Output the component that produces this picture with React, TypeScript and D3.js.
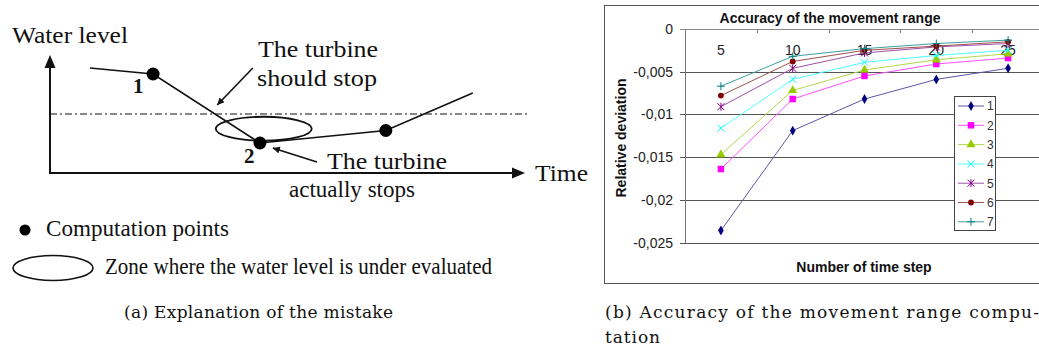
import React from 'react';
import * as d3 from 'd3';

// ---- chart (b) data ----
const steps = [5, 10, 15, 20, 25];
const series1 = [-0.0236, -0.0119, -0.0082, -0.0059, -0.0046];
const series2 = [-0.0164, -0.0082, -0.0055, -0.0041, -0.0034];
const series3 = [-0.0147, -0.0072, -0.0048, -0.0036, -0.0029];
const series4 = [-0.0116, -0.0059, -0.0039, -0.0031, -0.0025];
const series5 = [-0.0091, -0.0046, -0.0028, -0.0021, -0.0017];
const series6 = [-0.0078, -0.0038, -0.0025, -0.002, -0.0015];
const series7 = [-0.0067, -0.0032, -0.0023, -0.0017, -0.0013];
const seriesNames = ['1', '2', '3', '4', '5', '6', '7'];
const yTicks = [0, -0.005, -0.01, -0.015, -0.02, -0.025];

// ---- diagram (a) data (time / level in arbitrary units 0..100) ----
const levelCurve: [number, number][] = [[8.4, 89], [21.7, 83.9], [44.2, 25.4], [70.7, 36], [89, 67.8]];
const computationPoints: [number, number][] = [[21.7, 83.9], [44.2, 25.4], [70.7, 36]];
const pointLabels = ['1', '2'];
const stopThreshold = 50;

const markerColors = ['#000080', '#ff00ff', '#99cc00', '#00ffff', '#800080', '#800000', '#008080'];
const lineColors = ['#5858a8', '#ff50ff', '#b4d84a', '#50ffff', '#a050a8', '#a05050', '#40a0a0'];

const W = 1039;
const H = 349;

function markerPath(i: number): string {
  const sym = d3.symbol();
  switch (i) {
    case 0: return sym.type(d3.symbolDiamond).size(28)() as string;
    case 1: return sym.type(d3.symbolSquare).size(42)() as string;
    case 2: return sym.type(d3.symbolTriangle).size(36)() as string;
    case 3: return 'M-3.5,-3.5L3.5,3.5M-3.5,3.5L3.5,-3.5';
    case 4: return 'M-3.5,-3.5L3.5,3.5M-3.5,3.5L3.5,-3.5M0,-4L0,4';
    case 5: return sym.type(d3.symbolCircle).size(26)() as string;
    default: return 'M-4,0L4,0M0,-4L0,4';
  }
}
const openMarker = (i: number) => i === 3 || i === 4 || i === 6;

function AccuracyChart() {
  const all = [series1, series2, series3, series4, series5, series6, series7];
  const x = d3.scaleBand<number>().domain(steps).range([685, 1044]);
  const y = d3.scaleLinear().domain([-0.025, 0]).range([242.5, 29]);
  const loc = d3.formatLocale({ decimal: ',', thousands: '.', grouping: [3], currency: ['', ''], minus: '-' });
  const fmt = (v: number) => (v === 0 ? '0' : loc.format('')(v));
  const cx = (s: number) => (x(s) as number) + x.bandwidth() / 2;
  const line = d3.line<number>().x((_, k) => cx(steps[k])).y(v => y(v));
  const font = '"Liberation Sans", Arial, sans-serif';
  const edges = [...steps.map(s => x(s) as number), x.range()[1]];

  return (
    <g fontFamily={font}>
      <rect x={604.5} y={5.5} width={445} height={278} fill="#fff" stroke="#555" />
      <text x={830} y={23} textAnchor="middle" fontSize={14} fontWeight="bold" fill="#111">
        Accuracy of the movement range
      </text>
      {yTicks.map(t => (
        <g key={t}>
          <line x1={680} x2={x.range()[1]} y1={Math.round(y(t)) + 0.5} y2={Math.round(y(t)) + 0.5}
            stroke={t === 0 ? '#888' : '#555'} />
          <text x={673} y={y(t)} dy="0.36em" textAnchor="end" fontSize={14} fill="#222">{fmt(t)}</text>
        </g>
      ))}
      <line x1={685.5} x2={685.5} y1={29} y2={243} stroke="#777" />
      {edges.map(e => (
        <line key={e} x1={Math.round(e) + 0.5} x2={Math.round(e) + 0.5} y1={29} y2={33} stroke="#777" />
      ))}
      {steps.map(s => (
        <text key={s} x={cx(s)} y={55} textAnchor="middle" fontSize={14} fill="#222">{s}</text>
      ))}
      <text transform="translate(626,138) rotate(-90)" textAnchor="middle" fontSize={14} fontWeight="bold" fill="#111">
        Relative deviation
      </text>
      <text x={864} y={272} textAnchor="middle" fontSize={14} fontWeight="bold" fill="#111">
        Number of time step
      </text>
      {all.map((vals, i) => (
        <g key={i}>
          <path d={line(vals) as string} fill="none" stroke={lineColors[i]} strokeWidth={1} />
          {vals.map((v, k) => (
            <path key={k} transform={`translate(${cx(steps[k])},${y(v)})`} d={markerPath(i)}
              fill={openMarker(i) ? 'none' : markerColors[i]} stroke={markerColors[i]}
              strokeWidth={openMarker(i) ? 1 : 0} />
          ))}
        </g>
      ))}
      <rect x={954.5} y={96.5} width={41} height={134} fill="#fff" stroke="#444" />
      {seriesNames.map((n, i) => {
        const ly = 106 + i * 19.3;
        return (
          <g key={n}>
            <line x1={958} x2={984} y1={ly} y2={ly} stroke={lineColors[i]} />
            <path transform={`translate(971,${ly})`} d={markerPath(i)}
              fill={openMarker(i) ? 'none' : markerColors[i]} stroke={markerColors[i]}
              strokeWidth={openMarker(i) ? 1 : 0} />
            <text x={987} y={ly} dy="0.36em" fontSize={12} fill="#333">{n}</text>
          </g>
        );
      })}
    </g>
  );
}

function Label({ x, y, w, children }: { x: number; y: number; w: number; children: string }) {
  return (
    <text x={x} y={y} fontSize={23} textLength={w} lengthAdjust="spacingAndGlyphs">{children}</text>
  );
}

function MistakeDiagram() {
  const t = d3.scaleLinear().domain([0, 100]).range([50, 525]);
  const l = d3.scaleLinear().domain([0, 100]).range([173, 55]);
  const curve = d3.line<[number, number]>().x(d => t(d[0])).y(d => l(d[1]));
  const serif = '"Liberation Serif", "Times New Roman", serif';
  const p1 = computationPoints[0];
  const p2 = computationPoints[1];
  return (
    <g fontFamily={serif} fill="#111">
      <defs>
        <marker id="ahead" viewBox="0 0 10 10" refX="10" refY="5" markerWidth="8" markerHeight="7"
          markerUnits="userSpaceOnUse" orient="auto">
          <path d="M0,0L10,5L0,10Z" fill="#111" />
        </marker>
      </defs>
      <Label x={12} y={43} w={116}>Water level</Label>
      {/* axes */}
      <line x1={t(0)} x2={t(0)} y1={l(0) + 1} y2={l(100) + 12} stroke="#111" strokeWidth={2} />
      <path d={`M${t(0) - 5.5},${l(100) + 13}L${t(0)},${l(100)}L${t(0) + 5.5},${l(100) + 13}Z`} fill="#111" />
      <line x1={t(0) - 1} x2={t(100) - 12} y1={l(0)} y2={l(0)} stroke="#111" strokeWidth={2} />
      <path d={`M${t(100) - 13},${l(0) - 5.5}L${t(100)},${l(0)}L${t(100) - 13},${l(0) + 5.5}Z`} fill="#111" />
      <Label x={535} y={181} w={53}>Time</Label>
      {/* threshold */}
      <line x1={t(0)} x2={t(100.5)} y1={l(stopThreshold)} y2={l(stopThreshold)} stroke="#111"
        strokeWidth={1.2} strokeDasharray="7 3 2 3" />
      {/* under-evaluated zone */}
      <ellipse cx={t(45)} cy={l(37.5)} rx={48} ry={12} fill="none" stroke="#111" strokeWidth={1.8} />
      <path d={curve(levelCurve) as string} fill="none" stroke="#111" strokeWidth={1.6} />
      {computationPoints.map((p, i) => (
        <circle key={i} cx={t(p[0])} cy={l(p[1])} r={6.5} fill="#000" />
      ))}
      <text x={t(p1[0]) - 20} y={l(p1[1]) + 19} fontSize={21} fontWeight="bold">{pointLabels[0]}</text>
      <text x={t(p2[0]) - 16} y={l(p2[1]) + 20} fontSize={21} fontWeight="bold">{pointLabels[1]}</text>
      {/* annotations */}
      <Label x={258} y={57} w={120}>The turbine</Label>
      <Label x={257} y={86} w={120}>should stop</Label>
      <line x1={t(42.7)} y1={l(89)} x2={t(35.2)} y2={l(57.6)} stroke="#111" strokeWidth={1.6} markerEnd="url(#ahead)" />
      <line x1={t(56.2)} y1={l(9.3)} x2={t(46.9)} y2={l(21.2)} stroke="#111" strokeWidth={1.6} markerEnd="url(#ahead)" />
      <Label x={327} y={169} w={120}>The turbine</Label>
      <Label x={289} y={197} w={126}>actually stops</Label>
      {/* key */}
      <circle cx={25} cy={230} r={5.5} fill="#000" />
      <Label x={46} y={236} w={183}>Computation points</Label>
      <ellipse cx={53} cy={268} rx={40} ry={12.5} fill="none" stroke="#111" strokeWidth={1.6} />
      <Label x={105} y={274} w={387}>Zone where the water level is under evaluated</Label>
    </g>
  );
}

export default function App() {
  const cap = '"DejaVu Serif", "Liberation Serif", serif';
  return (
    <svg width={W} height={H} viewBox={`0 0 ${W} ${H}`}
      style={{ position: 'absolute', left: 0, top: 0, background: '#fff' }}>
      <rect width={W} height={H} fill="#fff" />
      <MistakeDiagram />
      <AccuracyChart />
      <g fontFamily={cap} fontSize={17} fill="#111">
        <text x={124} y={318} textLength={269} lengthAdjust="spacing">(a) Explanation of the mistake</text>
        <text x={605} y={318} textLength={434} lengthAdjust="spacing">(b) Accuracy of the movement range compu-</text>
        <text x={605} y={343} textLength={55} lengthAdjust="spacing">tation</text>
      </g>
    </svg>
  );
}
